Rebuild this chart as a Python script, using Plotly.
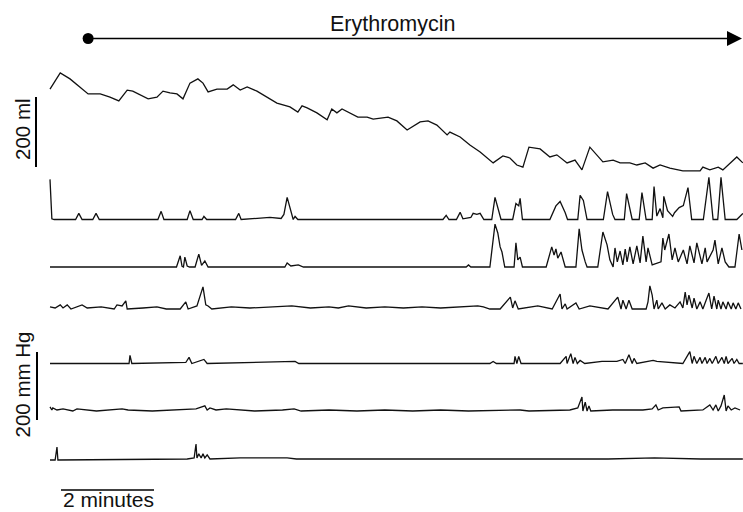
import plotly.graph_objects as go

# ---------------- data (time in minutes from start of record) ----------------
# Gastric volume (barostat bag), ml relative to end-of-record level
vol_t = [0.00, 0.22, 0.43, 0.65, 0.82, 1.08, 1.29, 1.48, 1.66, 1.78, 1.94, 2.11, 2.30, 2.43,
         2.58, 2.73, 2.86, 3.01, 3.18, 3.29, 3.40, 3.59, 3.81, 3.94, 4.09, 4.24, 4.45, 4.67,
         4.88, 5.16, 5.33, 5.42, 5.53, 5.74, 5.96, 6.06, 6.17, 6.28, 6.45, 6.62, 6.82, 6.95,
         7.27, 7.46, 7.68, 7.96, 8.13, 8.32, 8.54, 8.60, 8.82, 9.03, 9.25, 9.53, 9.74, 9.89,
         10.04, 10.17, 10.30, 10.54, 10.75, 10.90, 11.12, 11.29, 11.44, 11.61, 11.89, 12.11,
         12.26, 12.47, 12.62, 12.80, 12.97, 13.12, 13.33, 13.61, 13.98, 14.04, 14.19, 14.37,
         14.47, 14.62, 14.77, 14.90]
vol_ml = [237, 283, 266, 243, 223, 223, 214, 203, 234, 231, 220, 209, 214, 231,
          226, 223, 209, 254, 266, 254, 229, 237, 237, 249, 234, 243, 231, 214,
          197, 186, 171, 189, 183, 169, 149, 180, 169, 180, 169, 157, 157, 151,
          157, 146, 120, 143, 146, 134, 106, 114, 100, 77, 57, 26, 46, 40,
          20, 14, 71, 66, 43, 49, 26, 34, 6, 71, 29, 34,
          26, 26, 20, 26, 11, 20, 11, 3, 3, 14, 6, 14,
          6, 26, 43, 26]

# Pressure channels (mmHg above each channel's baseline), proximal to distal
p1_t = [0.00, 0.04, 0.09, 0.55, 0.62, 0.69, 0.92, 0.99, 1.06, 2.32, 2.39, 2.45, 2.95, 3.01,
        3.08, 3.27, 3.31, 3.37, 3.99, 4.06, 4.11, 4.73, 4.97, 5.03, 5.10, 5.18, 5.23, 5.27,
        5.33, 8.45, 8.52, 8.58, 8.74, 8.82, 8.88, 9.05, 9.10, 9.18, 9.25, 9.33, 9.50, 9.57,
        9.70, 9.95, 10.02, 10.08, 10.11, 10.16, 10.75, 10.88, 10.97, 11.08, 11.13, 11.35,
        11.40, 11.47, 11.55, 11.90, 11.94, 11.99, 12.10, 12.15, 12.35, 12.40, 12.52, 12.67,
        12.73, 12.82, 12.95, 12.99, 13.05, 13.12, 13.18, 13.20, 13.28, 13.39, 13.43, 13.53,
        13.62, 13.72, 13.80, 14.05, 14.17, 14.26, 14.36, 14.43, 14.52, 14.77, 14.90]
p1_mmhg = [118, 2, 0, 0, 18, 0, 0, 18, 0, 0, 24, 0, 0, 26,
           0, 0, 9, 0, 0, 18, 0, 6, 3, 15, 65, 20, 0, 9,
           0, 0, 12, 0, 0, 21, 2, 6, 18, 15, 18, 0, 0, 65,
           0, 0, 47, 40, 62, 0, 0, 40, 53, 20, 0, 0,
           71, 56, 0, 0, 40, 82, 15, 0, 0, 76, 0, 0,
           79, 0, 0, 97, 10, 32, 5, 68, 26, 9, 20, 35,
           41, 94, 0, 0, 124, 0, 0, 124, 0, 0, 18]

p2_t = [0.00, 2.72, 2.80, 2.84, 2.87, 2.90, 2.95, 3.00, 3.12, 3.20, 3.26, 3.33, 3.40, 5.05,
        5.10, 5.18, 5.34, 5.45, 8.95, 9.00, 9.05, 9.46, 9.57, 9.63, 9.68, 9.72, 9.78, 9.98,
        10.02, 10.06, 10.11, 10.16, 10.67, 10.79, 10.84, 10.88, 10.92, 10.99, 11.08, 11.31,
        11.38, 11.44, 11.51, 11.55, 11.78, 11.89, 11.98, 12.04, 12.11, 12.15, 12.20, 12.26,
        12.32, 12.37, 12.41, 12.47, 12.54, 12.62, 12.69, 12.75, 12.82, 12.86, 12.95, 13.14,
        13.18, 13.22, 13.31, 13.38, 13.44, 13.51, 13.62, 13.70, 13.76, 13.85, 13.91, 14.02,
        14.09, 14.13, 14.26, 14.30, 14.37, 14.45, 14.52, 14.60, 14.73, 14.82, 14.88]
p2_mmhg = [0, 0, 33, 2, 0, 29, 3, 0, 0, 38, 5, 18, 0, 0,
           12, 3, 6, 0, 0, 6, 0, 0, 126, 100, 59, 44, 0, 0,
           71, 21, 29, 0, 0, 59, 35, 53, 26, 44, 0, 0,
           112, 50, 15, 0, 0, 103, 65, 21, 0, 56, 15, 47,
           6, 53, 15, 59, 9, 62, 12, 91, 15, 56, 6, 15,
           85, 50, 97, 21, 56, 15, 50, 9, 62, 12, 71, 9,
           56, 15, 50, 79, 9, 56, 15, 0, 0, 97, 50]

p3_t = [0.00, 0.11, 0.22, 0.28, 0.37, 0.45, 0.69, 0.80, 1.10, 1.38, 1.44, 1.55, 1.63, 1.66,
        2.00, 2.30, 2.50, 2.80, 2.92, 2.97, 3.16, 3.29, 3.35, 3.40, 3.48, 3.90, 4.30, 4.80,
        5.20, 5.60, 6.00, 6.20, 6.42, 6.80, 7.20, 7.60, 8.00, 8.40, 9.00, 9.20, 9.32, 9.46,
        9.68, 9.90, 9.95, 10.00, 10.07, 10.25, 10.49, 10.80, 10.97, 11.01, 11.08, 11.12,
        11.31, 11.38, 11.61, 12.00, 12.21, 12.28, 12.32, 12.39, 12.45, 12.52, 12.82, 12.86,
        12.90, 12.95, 12.99, 13.05, 13.08, 13.16, 13.23, 13.33, 13.44, 13.55, 13.61, 13.66,
        13.70, 13.74, 13.81, 13.85, 13.91, 13.98, 14.04, 14.11, 14.17, 14.23, 14.28, 14.34,
        14.37, 14.43, 14.47, 14.54, 14.58, 14.65, 14.69, 14.75, 14.80, 14.86]
p3_mmhg = [6, 3, 12, 3, 12, 0, 12, 3, 6, 0, 12, 9, 24, 0,
           3, 6, 0, 0, 21, 0, 9, 65, 12, 9, 0, 6, 3, 6,
           9, 3, 6, 3, 9, 3, 6, 3, 6, 3, 6, 9, 6, 0,
           0, 35, 3, 24, 0, 3, 9, 0, 44, 0, 15, 0,
           18, 0, 9, 0, 35, 0, 26, 0, 26, 0, 0, 21,
           68, 41, 0, 26, 0, 18, 0, 12, 3, 21, 3, 50,
           12, 41, 3, 32, 0, 21, 0, 26, 47, 0, 38, 0,
           26, 0, 21, 0, 21, 0, 18, 0, 18, 0]

p4_t = [0.00, 1.70, 1.72, 1.76, 2.92, 2.99, 3.05, 3.31, 3.38, 4.00, 5.27, 5.35, 8.00, 9.46,
        9.53, 9.60, 9.98, 10.00, 10.04, 10.08, 10.13, 10.97, 11.10, 11.12, 11.20, 11.25,
        11.29, 11.34, 11.40, 11.50, 11.87, 12.19, 12.32, 12.37, 12.45, 12.52, 12.56, 12.62,
        12.97, 13.05, 13.61, 13.76, 13.81, 13.85, 13.91, 13.98, 14.02, 14.09, 14.13, 14.19,
        14.24, 14.32, 14.37, 14.45, 14.50, 14.54, 14.58, 14.67, 14.71, 14.77, 14.82, 14.90]
p4_mmhg = [0, 0, 24, 0, 3, 18, 0, 12, 0, 2, 6, 0, 0, 0,
           6, 0, 0, 21, 0, 21, 0, 0, 21, 0, 29, 0,
           18, 0, 9, 0, 6, 6, 12, 0, 26, 0, 15, 0,
           9, 6, 0, 35, 0, 21, 0, 18, 0, 18, 0, 15,
           0, 21, 0, 18, 0, 21, 0, 15, 0, 12, 0, 0]

p5_t = [0.00, 0.04, 0.06, 0.15, 0.28, 0.49, 0.58, 1.00, 1.55, 1.68, 2.20, 3.14, 3.33, 3.38,
        3.44, 3.57, 3.79, 4.40, 5.00, 5.25, 5.40, 6.00, 6.60, 7.20, 7.80, 8.40, 9.00, 9.68,
        10.11, 10.30, 11.18, 11.35, 11.44, 11.46, 11.51, 11.55, 11.59, 11.63, 12.10, 12.75,
        12.95, 13.03, 13.08, 13.18, 13.53, 13.57, 14.04, 14.19, 14.26, 14.32, 14.37, 14.43,
        14.50, 14.54, 14.58, 14.65, 14.73, 14.84]
p5_mmhg = [12, 3, 9, 3, 6, 0, 6, 0, 6, 3, 0, 6, 15, 3,
           9, 3, 6, 0, 3, 6, 0, 3, 0, 3, 0, 3, 0, 3,
           3, 0, 3, 9, 41, 0, 26, 0, 15, 0, 3, 3,
           6, 18, 3, 9, 12, 0, 3, 18, 3, 18, 0, 15,
           47, 0, 15, 3, 9, 3]

p6_t = [0.00, 0.11, 0.15, 0.17, 2.95, 3.10, 3.14, 3.16, 3.20, 3.25, 3.29, 3.33, 3.38, 3.44,
        4.09, 5.10, 5.30, 6.00, 7.00, 8.00, 9.00, 10.00, 11.00, 12.00, 13.00, 14.00, 14.90]
p6_mmhg = [0, 0, 38, 0, 3, 6, 47, 6, 18, 6, 18, 6, 15, 3,
           6, 6, 3, 3, 3, 3, 3, 3, 3, 3, 6, 3, 3]

pressure_t = [p1_t, p2_t, p3_t, p4_t, p5_t, p6_t]
pressure_v = [p1_mmhg, p2_mmhg, p3_mmhg, p4_mmhg, p5_mmhg, p6_mmhg]

drug_label = "Erythromycin"
drug_start_min = 0.82
scale_ml = 200
scale_mmhg = 200
scale_min = 2

# ---------------- layout geometry ----------------
W, H = 743, 512
X0_PX = 50.0            # pixel of t = 0
PX_PER_MIN = 46.5
K_P = scale_mmhg / 68.0  # mmHg per pixel
K_V = scale_ml / 70.0    # ml per pixel
VOL_ZERO_PX = 172.0
BASE_PX = [219.5, 267.0, 309.0, 363.5, 411.0, 460.0]

def py(px):
    """pixel row -> pressure-axis units"""
    return (H - px) * K_P

def tx(px):
    return (px - X0_PX) / PX_PER_MIN

LINE = dict(color="#111111", width=1.3)

fig = go.Figure()

fig.add_trace(go.Scatter(x=vol_t, y=vol_ml, mode="lines", line=LINE, yaxis="y2",
                         hoverinfo="skip", showlegend=False))

for t, v, b in zip(pressure_t, pressure_v, BASE_PX):
    off = py(b)
    fig.add_trace(go.Scatter(x=t, y=[off + a for a in v], mode="lines", line=LINE,
                             hoverinfo="skip", showlegend=False))

# erythromycin start dot
fig.add_trace(go.Scatter(x=[drug_start_min], y=[py(38.5)], mode="markers",
                         marker=dict(color="#000", size=11), hoverinfo="skip",
                         showlegend=False))

shapes = [
    # 200 ml bar
    dict(type="line", xref="x", yref="y2", x0=tx(36), x1=tx(36),
         y0=(VOL_ZERO_PX - 167) * K_V, y1=(VOL_ZERO_PX - 167) * K_V + scale_ml,
         line=dict(color="#000", width=2)),
    # 200 mmHg bar
    dict(type="line", xref="x", yref="y", x0=tx(37), x1=tx(37),
         y0=py(420), y1=py(420) + scale_mmhg, line=dict(color="#000", width=2)),
    # 2 min bar
    dict(type="line", xref="x", yref="y", x0=tx(61), x1=tx(61) + scale_min,
         y0=py(490), y1=py(490), line=dict(color="#000", width=1.5)),
]

annotations = [
    dict(x=tx(742), y=py(38.5), ax=drug_start_min, ay=py(38.5), xref="x", yref="y",
         axref="x", ayref="y", showarrow=True, arrowhead=2, arrowsize=2,
         arrowwidth=1.5, arrowcolor="#000", text=""),
    dict(x=392 / W, y=1 - 24 / H, xref="paper", yref="paper", text=drug_label,
         showarrow=False, font=dict(size=21.5, color="#111"), xanchor="center", yanchor="middle"),
    dict(x=22 / W, y=1 - 129 / H, xref="paper", yref="paper", text="200 ml", textangle=-90,
         showarrow=False, font=dict(size=20.5, color="#111"), xanchor="center", yanchor="middle"),
    dict(x=22 / W, y=1 - 384.5 / H, xref="paper", yref="paper", text="200 mm Hg", textangle=-90,
         showarrow=False, font=dict(size=20.5, color="#111"), xanchor="center", yanchor="middle"),
    dict(x=108 / W, y=1 - 499 / H, xref="paper", yref="paper", text="2 minutes",
         showarrow=False, font=dict(size=21, color="#111"), xanchor="center", yanchor="middle"),
]

fig.update_layout(
    width=W, height=H, autosize=False,
    margin=dict(l=0, r=0, t=0, b=0, pad=0),
    paper_bgcolor="white", plot_bgcolor="white",
    font=dict(family="Liberation Sans, Arial, sans-serif"),
    xaxis=dict(range=[tx(0), tx(W)], visible=False, fixedrange=True),
    yaxis=dict(range=[0, H * K_P], visible=False, fixedrange=True),
    yaxis2=dict(range=[-(H - VOL_ZERO_PX) * K_V, VOL_ZERO_PX * K_V], overlaying="y",
                visible=False, fixedrange=True),
    shapes=shapes, annotations=annotations, showlegend=False,
)

fig.write_html("out.html", config={"displayModeBar": False},
               post_script="document.body.style.margin='0';document.body.style.overflow='hidden';")
